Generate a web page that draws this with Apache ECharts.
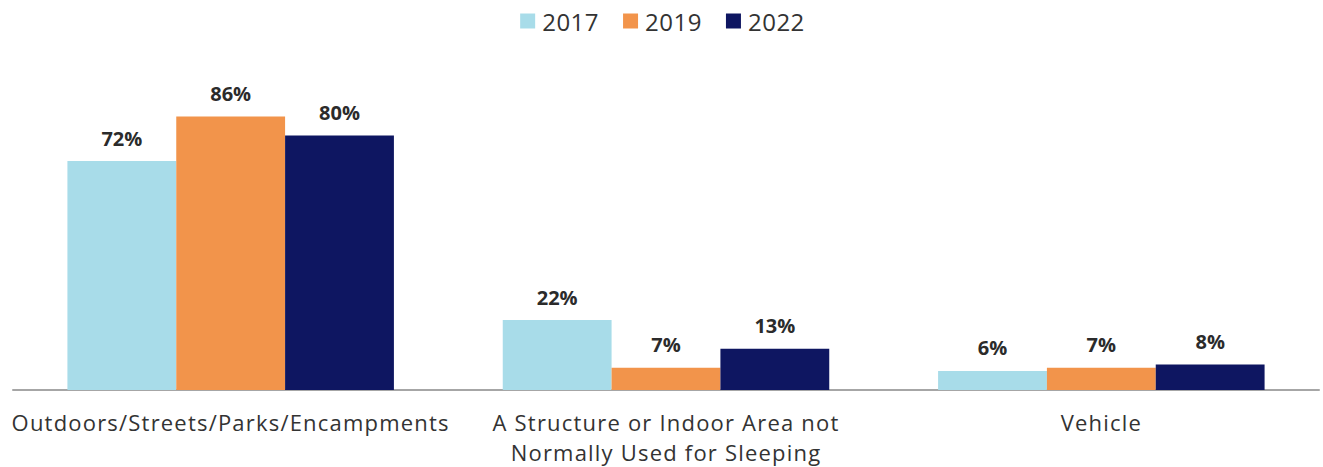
<!DOCTYPE html>
<html>
<head>
<meta charset="utf-8">
<script src="https://cdn.jsdelivr.net/npm/echarts@6/dist/echarts.min.js"></script>
<style>
  html, body { margin: 0; padding: 0; background: #fff; }
  #chart { width: 1323px; height: 467px; }
  #chart text[style*="22px"] { letter-spacing: 1.2px; }
  #chart text[style*="24px"] { letter-spacing: 0.5px; }
</style>
</head>
<body>
<div id="chart"></div>
<script>
const categories = [
  'Outdoors/Streets/Parks/Encampments',
  'A Structure or Indoor Area not\nNormally Used for Sleeping',
  'Vehicle'
];
const seriesNames = ['2017', '2019', '2022'];
const values2017 = [72, 22, 6];
const values2019 = [86, 7, 7];
const values2022 = [80, 13, 8];
const colors = ['#A8DCE9', '#F2944B', '#0E1661'];

const chart = echarts.init(document.getElementById('chart'), null, { renderer: 'svg' });
const allValues = [values2017, values2019, values2022];
const labelStyle = {
  show: true,
  position: 'top',
  distance: 13,
  formatter: '{c}%',
  fontFamily: 'Open Sans',
  fontWeight: 'bold',
  fontSize: 20,
  lineHeight: 20,
  color: '#2b2b2b'
};
chart.setOption({
  animation: false,
  color: colors,
  legend: {
    top: 4,
    left: 'center',
    itemWidth: 15,
    itemHeight: 15,
    itemGap: 26,
    icon: 'rect',
    textStyle: { fontFamily: 'Open Sans', fontSize: 24, color: '#333333', padding: [0, 0, 0, 2] },
    data: seriesNames
  },
  grid: { left: 13, right: 4, top: 72, bottom: 77, containLabel: false, outerBoundsMode: 'none' },
  xAxis: {
    type: 'category',
    data: categories,
    axisLine: { show: true, lineStyle: { color: '#a6a6a6', width: 2 } },
    axisTick: { show: false },
    axisLabel: {
      interval: 0,
      margin: 17,
      fontFamily: 'Open Sans',
      fontSize: 22,
      lineHeight: 30,
      color: '#333333'
    }
  },
  yAxis: {
    type: 'value',
    min: 0,
    max: 100,
    show: false,
    splitLine: { show: false }
  },
  series: seriesNames.map((name, i) => ({
    name: name,
    type: 'bar',
    data: allValues[i],
    barGap: '0%',
    barCategoryGap: '25%',
    label: labelStyle
  }))
});
</script>
</body>
</html>
